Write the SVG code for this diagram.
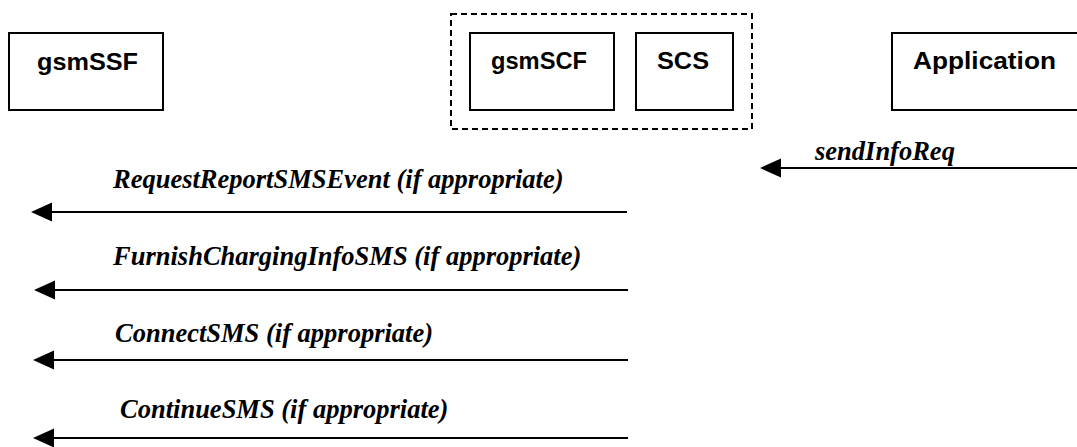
<svg xmlns="http://www.w3.org/2000/svg" width="1077" height="447" viewBox="0 0 1077 447">
<style>
.box{fill:#fff;stroke:#000;stroke-width:2}
.dash{fill:none;stroke:#000;stroke-width:2;stroke-dasharray:6 4}
.nl{font-family:"Liberation Sans",Arial,sans-serif;font-weight:bold;font-size:23.5px;fill:#000}
.ml{font-family:"Liberation Serif","Times New Roman",serif;font-weight:bold;font-style:italic;font-size:26.5px;fill:#000}
.msg{stroke:#000;stroke-width:2;fill:none;marker-end:url(#ah)}
</style>
<defs>
<marker id="ah" markerUnits="userSpaceOnUse" markerWidth="22" markerHeight="20" refX="0" refY="10" orient="auto" viewBox="0 0 22 20">
<path d="M0,0.5 L21,10 L0,19.5 z" fill="#000"/>
</marker>
</defs>
<rect width="1077" height="447" fill="#fff"/>
<g id="gsmSSF">
<rect class="box" x="9" y="33" width="154" height="77"/>
<text class="nl" x="37" y="70" textLength="101" lengthAdjust="spacingAndGlyphs">gsmSSF</text>
</g>
<g id="scf-group">
<rect class="dash" x="451" y="14" width="301" height="115"/>
</g>
<g id="gsmSCF">
<rect class="box" x="470" y="33" width="144" height="77"/>
<text class="nl" x="491" y="69" textLength="96" lengthAdjust="spacingAndGlyphs">gsmSCF</text>
</g>
<g id="SCS">
<rect class="box" x="636" y="33" width="97" height="77"/>
<text class="nl" x="657" y="69" textLength="52" lengthAdjust="spacingAndGlyphs">SCS</text>
</g>
<g id="Application">
<rect class="box" x="892" y="33" width="190" height="77"/>
<text class="nl" x="913" y="69" textLength="143" lengthAdjust="spacingAndGlyphs">Application</text>
</g>
<g id="connectors">
<line class="msg" x1="1077" y1="168" x2="781" y2="168"/>
<text class="ml" x="815" y="160">sendInfoReq</text>
<line class="msg" x1="627" y1="212" x2="52" y2="212"/>
<text class="ml" x="113" y="188">RequestReportSMSEvent (if appropriate)</text>
<line class="msg" x1="628" y1="290" x2="55" y2="290"/>
<text class="ml" x="113" y="265">FurnishChargingInfoSMS (if appropriate)</text>
<line class="msg" x1="628" y1="360" x2="54" y2="360"/>
<text class="ml" x="115" y="342">ConnectSMS (if appropriate)</text>
<line class="msg" x1="628" y1="438" x2="54" y2="438"/>
<text class="ml" x="120" y="418">ContinueSMS (if appropriate)</text>
</g>
</svg>
